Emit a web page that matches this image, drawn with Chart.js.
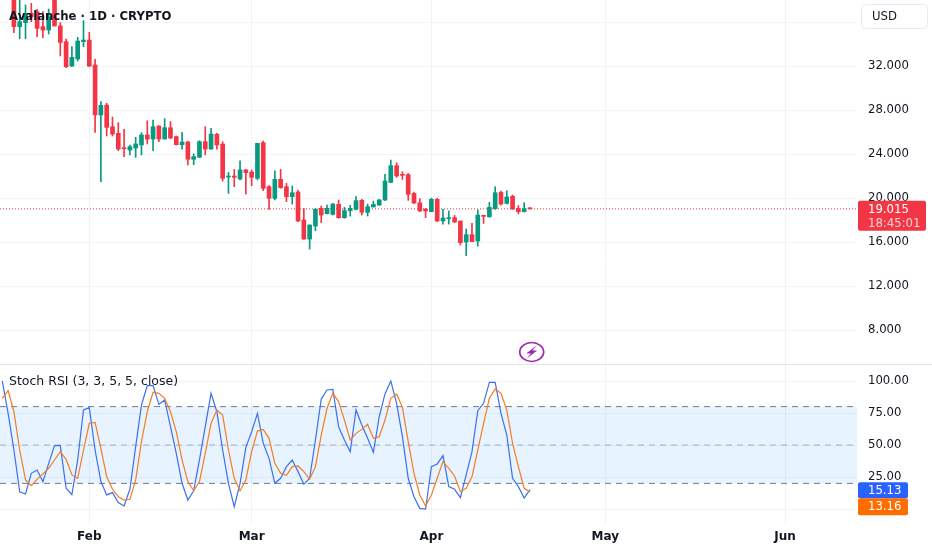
<!DOCTYPE html>
<html><head><meta charset="utf-8">
<style>html,body{margin:0;padding:0;background:#fff}canvas{display:block}</style>
<script src="https://cdn.jsdelivr.net/npm/chart.js@4/dist/chart.umd.min.js"></script>
</head><body>
<canvas id="c" width="932" height="550"></canvas>
<script>
// Day numbers are counted from 1 Feb
const firstCandleDay = -13;
const opens = [38.6,35.58,35.94,36.79,36.94,35.58,35.27,38.5,35.64,34.21,32.0,32.64,34.21,34.36,32.09,27.55,28.45,26.48,25.88,24.55,24.36,24.55,24.82,25.73,25.36,26.55,25.36,26.39,25.58,24.85,25.09,23.52,23.7,25.12,24.45,25.79,24.91,21.91,22.0,21.73,22.55,22.36,21.79,25.03,21.03,19.97,21.7,21.03,20.12,20.55,18.0,16.27,17.45,19.06,18.58,18.51,19.42,18.21,18.85,18.97,19.79,18.70,19.18,19.36,19.82,21.42,22.94,22.12,22.12,20.42,19.57,18.97,18.76,19.88,17.91,18.12,18.21,17.91,16.0,16.67,16.09,18.42,18.3,19.03,20.51,19.51,20.15,19.06,18.76,19.09];
const highs = [39,38.5,37.55,37.7,37.15,36.94,37.18,39,35.94,34.45,33.76,34.61,36.12,35.06,32.61,28.76,28.61,27.36,26.85,26.24,24.82,25.52,25.94,27.03,27.09,26.55,27.21,26.94,25.64,25.97,25.15,24.0,25.21,26.48,26.33,25.88,25.12,22.33,22.6,23.39,22.6,22.55,24.97,25.18,21.12,22.48,22.6,21.33,21.09,20.73,19.06,17.55,19.06,19.27,19.36,19.51,19.82,19.15,19.33,20.12,19.88,19.45,19.72,19.88,22.15,23.45,23.21,22.39,22.24,20.54,19.94,19.06,19.97,19.97,18.97,18.82,18.42,17.91,17.18,17.69,18.91,18.42,19.6,21.03,20.63,20.66,20.27,19.33,19.57,19.12];
const lows = [35.03,34.48,34.48,36.03,34.67,34.58,34.91,35.64,32.91,31.85,31.94,32.45,33.76,31.94,25.97,21.48,25.64,25.64,24.3,23.76,23.91,23.7,23.91,24.91,24.3,25.12,25.36,25.39,24.82,24.45,23.0,23.03,23.67,23.91,24.45,24.45,21.54,20.42,21.03,21.64,20.36,21.12,21.64,20.67,18.97,19.82,20.88,19.67,19.45,17.85,16.24,15.36,17.03,17.76,18.55,18.45,18.15,18.15,18.36,18.91,18.45,18.36,19.18,19.33,19.76,21.39,21.88,21.69,19.79,19.51,18.76,18.21,18.76,17.85,17.63,17.63,17.76,15.73,14.76,16.03,15.63,17.69,18.24,18.97,19.36,19.45,18.97,18.54,18.73,19.0];
const closes = [35.58,36.03,36.64,36.48,35.42,35.27,36.48,35.64,34.15,31.94,32.79,34.27,34.36,32.0,27.55,28.42,26.42,25.82,24.45,24.48,24.67,24.91,25.73,25.36,26.48,25.36,26.39,25.45,24.85,25.09,23.52,23.76,25.12,24.45,25.82,24.82,21.79,22.0,21.88,22.55,22.3,21.88,24.97,20.88,19.97,21.7,20.94,20.12,20.48,17.91,16.27,17.55,18.97,18.45,19.06,19.45,18.21,18.85,19.06,19.76,18.70,19.21,19.42,19.82,21.54,22.94,22.0,22.06,20.33,19.54,18.82,18.82,19.88,17.91,18.18,18.21,17.82,15.94,16.67,16.03,18.45,18.33,19.15,20.48,19.45,20.09,19.0,18.76,19.03,19.015];

const firstStochDay = -15;
const stochK = [100,74.7,46.1,13.5,11.7,27.9,30.5,21.4,35.7,49.5,49.5,16.2,11.2,38.3,77.4,79.2,46.1,21.4,11,12.8,5,2.4,15.4,48.7,81.3,96.4,96.4,81.8,85.2,64.3,43.5,20.1,7,14.3,38.3,64.3,90.4,76,46.1,20.1,1.8,20.1,48.2,60.4,74.7,51.3,39.6,20.1,24,33.1,38.3,29.2,19.3,24,53.9,85.9,93,93.5,64.3,53.9,44.8,77.4,65.6,55.2,44.3,72.1,89.9,100,82.6,56.5,24,9.6,0.5,0,33.1,35.2,41.7,17.5,15.4,8.9,26.6,44.8,76.8,82.6,99,99,74.7,57.8,24,17.5,8.6,15.13];
const stochD = [86.5,92.5,76,46.1,22.7,18.2,23.2,27.4,31.8,38.3,44.8,38.8,26.6,24,46.1,66.9,67.7,47.4,25.3,15.4,9.6,7,7.6,22.7,52.6,76,91.2,90.4,86.5,76,60.4,38.3,21.4,14.3,21.4,43.5,66.9,77.4,73.4,46.1,24,14.3,22.7,44.8,60.9,62.2,55.2,35.7,27.9,26.3,33.1,33.6,29.2,23.4,33.1,57.8,78.7,90.4,83.9,69.5,53.9,59.1,62.2,66.2,55.2,56.5,69.5,86.5,89.9,79.4,52.6,27.9,11,2.4,11,24,37,31.8,25.8,13.5,16.2,25.3,46.1,66.9,86.5,93.8,90.4,77.4,51.3,33.1,16.2,13.16];

const monthDays = [0,28,59,89,120];
const monthLabels = ['Feb','Mar','Apr','May','Jun'];
const priceTicks = [8,12,16,20,24,28,32,36];
const stochTicks = [0,25,50,75,100];
const stochBands = [80,50,20];
const lastPrice = 19.015;
const lastPriceText = '19.015';
const countdownText = '18:45:01';
const titleText = 'Avalanche · 1D · CRYPTO';
const stochTitle = 'Stoch RSI (3, 3, 5, 5, close)';
const currencyText = 'USD';
const eventDay = 76.3;
const eventPrice = 6.0;

const GREEN='#089981', RED='#F23645', BLUE='#2962FF', ORANGE='#FF6D00', INK='#131722';
const FONT='"DejaVu Sans", sans-serif';
const xMin=-15.4, xMax=132.4;

const isUp = i => closes[i]>=opens[i];
const candleColors = closes.map((c,i)=> isUp(i)?GREEN:RED);
const wicks = highs.map((h,i)=>({x:firstCandleDay+i,y:[lows[i],h]}));
const bodies = opens.map((o,i)=>({x:firstCandleDay+i,y:[Math.min(o,closes[i]),Math.max(o,closes[i])]}));
const series = arr => arr.map((v,i)=>({x:firstStochDay+i,y:v}));
const flat = v => [{x:xMin,y:v},{x:xMax,y:v}];

const overlay = {
  id:'overlay',
  afterDraw(chart){
    const {ctx,scales:{x,y,y2}}=chart;
    const right=x.right;
    ctx.save();
    // panel separator
    ctx.strokeStyle='#e0e3eb';ctx.lineWidth=1;
    ctx.beginPath();ctx.moveTo(0,y.bottom+0.5);ctx.lineTo(chart.width,y.bottom+0.5);ctx.stroke();
    // titles
    ctx.textBaseline='middle';ctx.textAlign='left';
    ctx.fillStyle=INK;ctx.font='bold 11.7px '+FONT;
    ctx.fillText(titleText,9,17);
    ctx.font='12.5px '+FONT;
    ctx.fillText(stochTitle,9,y2.getPixelForValue(100)+1);
    // event icon
    const ex=x.getPixelForValue(eventDay),ey=y.getPixelForValue(eventPrice);
    ctx.strokeStyle='#9c27b0';ctx.lineWidth=1.6;
    ctx.beginPath();ctx.ellipse(ex,ey,12,9.5,0,0,Math.PI*2);ctx.stroke();
    ctx.fillStyle='#9c27b0';
    ctx.beginPath();
    ctx.moveTo(ex+5,ey-6.5);ctx.lineTo(ex-5.5,ey+1.5);ctx.lineTo(ex-0.8,ey+1.5);
    ctx.lineTo(ex-5,ey+6.5);ctx.lineTo(ex+5.5,ey-1.5);ctx.lineTo(ex+0.8,ey-1.5);ctx.closePath();ctx.fill();
    // tags
    const py=y.getPixelForValue(lastPrice);
    const tag=(tx,ty,w,h,c)=>{ctx.fillStyle=c;ctx.beginPath();ctx.roundRect(tx,ty,w,h,2);ctx.fill();};
    tag(right+1,py-8,68,30,RED);
    ctx.font='11.7px '+FONT;ctx.fillStyle='#fff';
    ctx.fillText(lastPriceText,right+11,py+1);
    ctx.fillStyle='#fbd0d4';
    ctx.fillText(countdownText,right+11,py+15);
    const ky=y2.getPixelForValue(stochK[stochK.length-1]);
    tag(right+1,ky-7.5,50,16,BLUE);
    tag(right+1,ky+8.5,50,17,ORANGE);
    ctx.fillStyle='#fff';
    ctx.fillText(stochK[stochK.length-1].toFixed(2),right+11,ky+1);
    ctx.fillText(stochD[stochD.length-1].toFixed(2),right+11,ky+17.5);
    // currency button
    ctx.fillStyle='#fff';ctx.strokeStyle='#e9ebf0';ctx.lineWidth=1;
    ctx.beginPath();ctx.roundRect(861.5,4.5,66,24,4);ctx.fill();ctx.stroke();
    ctx.fillStyle=INK;ctx.font='11.7px '+FONT;
    ctx.fillText(currencyText,872,17);
    ctx.restore();
  }
};

const AXIS_W=75;
const fitY = s => {s.width=AXIS_W;s.paddingTop=0;s.paddingBottom=0;s.paddingLeft=0;s.paddingRight=0;};
new Chart(document.getElementById('c'),{
  type:'bar',
  data:{datasets:[
    {type:'line',data:flat(stochBands[0]),yAxisID:'y2',borderColor:'#787b86',borderWidth:1,borderDash:[6,5],pointRadius:0,
     fill:{target:{value:stochBands[2]}},backgroundColor:'rgba(33,150,243,0.11)',order:5},
    {type:'line',data:flat(stochBands[1]),yAxisID:'y2',borderColor:'rgba(120,123,134,0.55)',borderWidth:1,borderDash:[6,5],pointRadius:0,order:5},
    {type:'line',data:flat(stochBands[2]),yAxisID:'y2',borderColor:'#787b86',borderWidth:1,borderDash:[6,5],pointRadius:0,order:5},
    {type:'line',data:series(stochD),yAxisID:'y2',borderColor:'#F57C1F',borderWidth:1.2,pointRadius:0,tension:0,order:3},
    {type:'line',data:series(stochK),yAxisID:'y2',borderColor:'#3D6FEF',borderWidth:1.2,pointRadius:0,tension:0,order:4},
    {type:'line',data:flat(lastPrice),yAxisID:'y',borderColor:RED,borderWidth:1,borderDash:[1,2],pointRadius:0,order:6},
    {type:'bar',data:bodies,yAxisID:'y',backgroundColor:candleColors,barThickness:4,grouped:false,minBarLength:1,order:1},
    {type:'bar',data:wicks,yAxisID:'y',backgroundColor:candleColors,barThickness:1,grouped:false,order:2}
  ]},
  options:{
    responsive:false,animation:false,
    layout:{padding:0,autoPadding:false},
    plugins:{legend:{display:false},tooltip:{enabled:false}},
    scales:{
      x:{type:'linear',min:xMin,max:xMax,offset:false,
         afterBuildTicks(s){s.ticks=monthDays.map(v=>({value:v}));},
         afterFit(s){s.height=25;s.paddingLeft=0;s.paddingRight=0;},
         grid:{color:'#f0f3fa',drawTicks:false,offset:false},border:{display:false},
         ticks:{autoSkip:false,maxRotation:0,padding:5,color:INK,font:{family:FONT,size:12,weight:'bold'},
           callback:(v)=>monthLabels[monthDays.indexOf(v)]}},
      y:{type:'linear',position:'right',stack:'panes',stackWeight:364,min:4.91,max:38,
         afterBuildTicks(s){s.ticks=priceTicks.map(v=>({value:v}));},
         afterFit:fitY,
         grid:{color:'#f3f4f7',drawTicks:false},border:{display:false},
         ticks:{autoSkip:false,padding:11,color:INK,font:{family:FONT,size:11.7},callback:v=>v.toFixed(3)}},
      y2:{type:'linear',position:'right',stack:'panes',stackWeight:161,min:-12.5,max:113.3,
         afterBuildTicks(s){s.ticks=stochTicks.map(v=>({value:v}));},
         afterFit:fitY,
         grid:{color:'#f3f4f7',drawTicks:false},border:{display:false},
         ticks:{autoSkip:false,padding:11,color:INK,font:{family:FONT,size:11.7},callback:v=>v.toFixed(2)}}
    }
  },
  plugins:[overlay]
});
</script>
</body></html>
